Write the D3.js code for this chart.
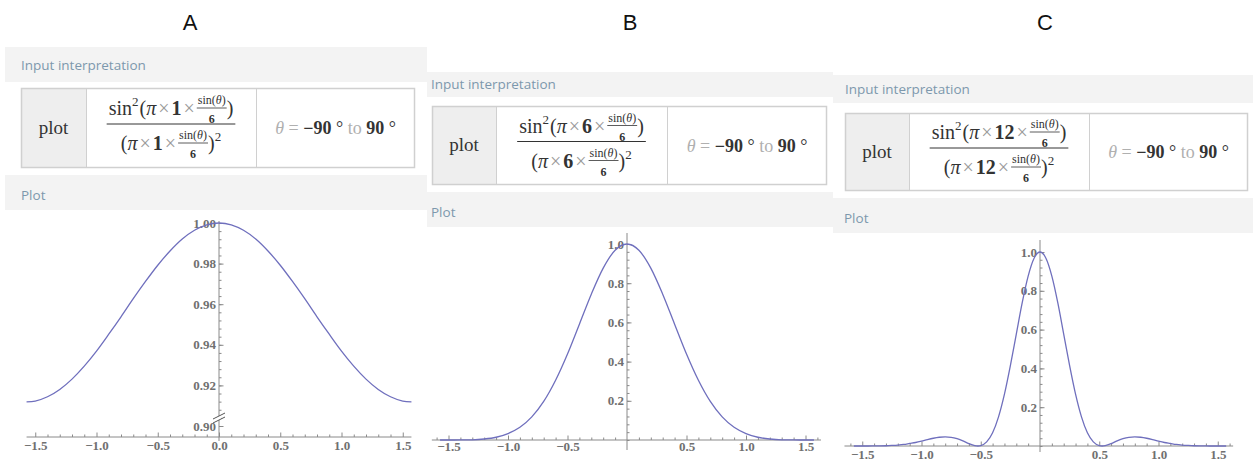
<!DOCTYPE html>
<html>
<head>
<meta charset="utf-8">
<script src="https://cdn.jsdelivr.net/npm/d3@7"></script>
<style>
  body { margin: 0; background: #fff; }
  svg { display: block; }
</style>
</head>
<body>
<svg id="chart" width="1253" height="461"></svg>
<script>
// ---- data ----
const panelNames = ["A", "B", "C"];
const formulaN = ["1", "6", "12"];

const thetaA = [-1.571,-1.5,-1.4,-1.3,-1.2,-1.1,-1.0,-0.9,-0.8,-0.7,-0.6,-0.5,-0.4,-0.3,-0.2,-0.1,0,
                0.1,0.2,0.3,0.4,0.5,0.6,0.7,0.8,0.9,1.0,1.1,1.2,1.3,1.4,1.5,1.571];
const valueA = [0.9119,0.9123,0.9144,0.9180,0.9231,0.9295,0.9369,0.9452,0.9538,0.9627,0.9712,0.9792,0.9862,0.9921,0.9964,0.9991,1.0,
                0.9991,0.9964,0.9921,0.9862,0.9792,0.9712,0.9627,0.9538,0.9452,0.9369,0.9295,0.9231,0.9180,0.9144,0.9123,0.9119];

const thetaB = [-1.571,-1.5,-1.4,-1.3,-1.2,-1.1,-1.0,-0.9,-0.8,-0.7,-0.6,-0.5,-0.4,-0.3,-0.2,-0.1,0,
                0.1,0.2,0.3,0.4,0.5,0.6,0.7,0.8,0.9,1.0,1.1,1.2,1.3,1.4,1.5,1.571];
const valueB = [0,0,0.0002,0.001,0.005,0.014,0.033,0.065,0.118,0.197,0.305,0.439,0.591,0.744,0.877,0.968,1,
                0.968,0.877,0.744,0.591,0.439,0.305,0.197,0.118,0.065,0.033,0.014,0.005,0.001,0.0002,0,0];

const thetaC = [-1.571,-1.5,-1.45,-1.4,-1.35,-1.3,-1.25,-1.2,-1.15,-1.1,-1.05,-1.0,-0.95,-0.9,-0.85,-0.8,-0.75,-0.7,-0.65,-0.6,-0.55,-0.524,-0.5,-0.45,-0.4,-0.35,-0.3,-0.25,-0.2,-0.15,-0.1,-0.05,0,
                0.05,0.1,0.15,0.2,0.25,0.3,0.35,0.4,0.45,0.5,0.524,0.55,0.6,0.65,0.7,0.75,0.8,0.85,0.9,0.95,1.0,1.05,1.1,1.15,1.2,1.25,1.3,1.35,1.4,1.45,1.5,1.571];
const valueC = [0,0,0.0001,0.0002,0.0006,0.0014,0.003,0.005,0.008,0.013,0.018,0.025,0.033,0.040,0.045,0.047,0.045,0.038,0.026,0.012,0.002,0,0.002,0.021,0.068,0.150,0.267,0.414,0.577,0.739,0.876,0.968,1,
                0.968,0.876,0.739,0.577,0.414,0.267,0.150,0.068,0.021,0.002,0,0.002,0.012,0.026,0.038,0.045,0.047,0.045,0.040,0.033,0.025,0.018,0.013,0.008,0.005,0.003,0.0014,0.0006,0.0002,0.0001,0,0];

const xTicksA = [-1.5, -1.0, -0.5, 0.0, 0.5, 1.0, 1.5];
const xTicksBC = [-1.5, -1.0, -0.5, 0.5, 1.0, 1.5];
const yTicksA = [0.90, 0.92, 0.94, 0.96, 0.98, 1.00];
const yTicksBC = [0.2, 0.4, 0.6, 0.8, 1.0];

// ---- layout of each screenshot ----
const layout = [
  { label: [190, 30], x0: 5, x1: 427, inBand: [47, 82], inText: [21, 65],
    table: [21, 415, 88, 168], c1: 86, c2: 256, plotBand: [175, 210], plotText: [21, 195],
    xRange: [35.25, 402.75], yDomain: [0.90, 1.00], yRange: [426, 223],
    xAxisY: 437, xLine: [-1.5708, 1.5708], yLine: [221, 441], labelPad: 5,
    theta: thetaA, value: valueA, xTicks: xTicksA, yTicks: yTicksA, yFmt: ".2f", yMinor: 0.004, brk: 418 },
  { label: [630, 30], x0: 427, x1: 833, inBand: [72, 97], inText: [431, 84],
    table: [432, 827, 106, 185], c1: 496, c2: 667, plotBand: [192, 227], plotText: [431, 212],
    xRange: [448.5, 805.5], yDomain: [0, 1], yRange: [440, 244],
    xAxisY: 440, xLine: [-1.64, 1.63], yLine: [233, 450], labelPad: 3,
    theta: thetaB, value: valueB, xTicks: xTicksBC, yTicks: yTicksBC, yFmt: ".1f", yMinor: 0.04, brk: null },
  { label: [1045, 30], x0: 833, x1: 1253, inBand: [75, 103], inText: [845, 89],
    table: [845, 1248, 113, 191], c1: 909, c2: 1089, plotBand: [198, 233], plotText: [844, 218],
    xRange: [862.25, 1217.75], yDomain: [0, 1], yRange: [446, 252],
    xAxisY: 446, xLine: [-1.65, 1.63], yLine: [240, 452], labelPad: 5,
    theta: thetaC, value: valueC, xTicks: xTicksBC, yTicks: yTicksBC, yFmt: ".1f", yMinor: 0.04, brk: null }
];

const svg = d3.select("#chart");
const serif = "'Liberation Serif', 'DejaVu Serif', serif";
const sans = "'Open Sans', 'Noto Sans', sans-serif";
const tickFont = "'Liberation Serif', serif";
const curveColor = "#6f6fbd";

// lays pieces of math in a row, returns the row group and its width
function mathRow(parent, pieces, baseline) {
  const row = parent.append("g");
  let cx = 0;
  pieces.forEach(p => {
    if (p.frac) {
      const fg = row.append("g");
      const top = fg.append("text")
        .attr("y", baseline - 11)
        .style("font-family", serif).style("font-size", "12px").attr("fill", "#333");
      top.append("tspan").text("sin(");
      top.append("tspan").style("font-style", "italic").text("θ");
      top.append("tspan").text(")");
      const bot = fg.append("text")
        .attr("y", baseline + 8)
        .style("font-family", serif).style("font-size", "12px").style("font-weight", "bold")
        .attr("fill", "#333").text("6");
      const w = Math.max(top.node().getComputedTextLength(), bot.node().getComputedTextLength()) + 2;
      top.attr("x", cx + w / 2).attr("text-anchor", "middle");
      bot.attr("x", cx + w / 2).attr("text-anchor", "middle");
      fg.append("line")
        .attr("x1", cx).attr("x2", cx + w)
        .attr("y1", baseline - 7).attr("y2", baseline - 7)
        .attr("stroke", "#333").attr("stroke-width", 0.8);
      cx += w + (p.after || 0);
    } else {
      cx += p.before || 0;
      const t = row.append("text")
        .attr("x", cx)
        .attr("y", baseline + (p.sup ? -9 : 0))
        .style("font-family", serif)
        .style("font-size", p.sup ? "13px" : "20px")
        .style("font-style", p.it ? "italic" : "normal")
        .style("font-weight", p.bold ? "bold" : "normal")
        .attr("fill", p.gray ? "#9a9a9a" : "#333")
        .text(p.t);
      cx += t.node().getComputedTextLength() + (p.after || 0);
    }
  });
  return { row, width: cx };
}

layout.forEach((L, i) => {
  const g = svg.append("g");
  const n = formulaN[i];

  // panel letter
  g.append("text")
    .attr("x", L.label[0]).attr("y", L.label[1])
    .attr("text-anchor", "middle")
    .style("font-family", "'Liberation Sans', Arial, sans-serif")
    .style("font-size", "22px")
    .attr("fill", "#111")
    .text(panelNames[i]);

  // pod header bands
  [[L.inBand, L.inText, "Input interpretation"], [L.plotBand, L.plotText, "Plot"]].forEach(([b, tp, txt]) => {
    g.append("rect")
      .attr("x", L.x0).attr("y", b[0])
      .attr("width", L.x1 - L.x0).attr("height", b[1] - b[0])
      .attr("fill", "#f3f3f3");
    g.append("text")
      .attr("x", tp[0]).attr("y", tp[1])
      .attr("dy", "0.35em")
      .style("font-family", sans).style("font-size", "13.5px")
      .attr("fill", "#7d98ad")
      .text(txt);
  });

  // interpretation table
  const [tx0, tx1, ty0, ty1] = L.table;
  g.append("rect")
    .attr("x", tx0).attr("y", ty0)
    .attr("width", L.c1 - tx0).attr("height", ty1 - ty0)
    .attr("fill", "#eeeeee");
  g.append("rect")
    .attr("x", tx0 + 0.5).attr("y", ty0 + 0.5)
    .attr("width", tx1 - tx0 - 1).attr("height", ty1 - ty0 - 1)
    .attr("fill", "none").attr("stroke", "#d0d0d0").attr("stroke-width", 1.5);
  [L.c1, L.c2].forEach(cx => {
    g.append("line")
      .attr("x1", cx + 0.5).attr("x2", cx + 0.5)
      .attr("y1", ty0).attr("y2", ty1)
      .attr("stroke", "#d0d0d0").attr("stroke-width", 1);
  });
  const midY = (ty0 + ty1) / 2;
  g.append("text")
    .attr("x", (tx0 + L.c1) / 2).attr("y", midY)
    .attr("dy", "0.3em").attr("text-anchor", "middle")
    .style("font-family", serif).style("font-size", "19px")
    .attr("fill", "#333")
    .text("plot");

  // formula
  const bar = midY - 4;
  const fcx = (L.c1 + L.c2) / 2;
  const times = { t: "×", gray: true, before: 2, after: 2 };
  const num = mathRow(g, [
    { t: "sin" }, { t: "2", sup: true, after: 1 }, { t: "(" }, { t: "π", it: true },
    times, { t: n, bold: true }, times, { frac: true }, { t: ")" }
  ], bar - 9);
  const den = mathRow(g, [
    { t: "(" }, { t: "π", it: true }, times, { t: n, bold: true }, times,
    { frac: true }, { t: ")" }, { t: "2", sup: true }
  ], bar + 26);
  const bw = Math.max(num.width, den.width) + 4;
  num.row.attr("transform", `translate(${fcx - num.width / 2},0)`);
  den.row.attr("transform", `translate(${fcx - den.width / 2},0)`);
  g.append("line")
    .attr("x1", fcx - bw / 2).attr("x2", fcx + bw / 2)
    .attr("y1", bar).attr("y2", bar)
    .attr("stroke", "#333").attr("stroke-width", 1);

  // theta range
  const rt = g.append("text")
    .attr("x", (L.c2 + tx1) / 2).attr("y", midY)
    .attr("dy", "0.35em").attr("text-anchor", "middle")
    .style("font-family", serif).style("font-size", "18px");
  rt.append("tspan").attr("fill", "#b0b0b0").style("font-style", "italic").text("θ");
  rt.append("tspan").attr("fill", "#b0b0b0").text(" = ");
  rt.append("tspan").attr("fill", "#333").style("font-weight", "bold").text("−90");
  rt.append("tspan").attr("fill", "#333").text(" °");
  rt.append("tspan").attr("fill", "#b0b0b0").text(" to ");
  rt.append("tspan").attr("fill", "#333").style("font-weight", "bold").text("90");
  rt.append("tspan").attr("fill", "#333").text(" °");

  // ---- plot ----
  const x = d3.scaleLinear().domain([-1.5, 1.5]).range(L.xRange);
  const y = d3.scaleLinear().domain(L.yDomain).range(L.yRange);
  const x0 = x(0);
  const axisColor = "#8a8a8a";
  const labelColor = "#707070";

  // x axis line
  g.append("line")
    .attr("x1", x(L.xLine[0])).attr("x2", x(L.xLine[1]))
    .attr("y1", L.xAxisY).attr("y2", L.xAxisY)
    .attr("stroke", axisColor).attr("stroke-width", 1);

  // x minor ticks
  const xMinor = d3.range(-16, 17).map(k => k / 10).filter(v => Math.abs(Math.round(v * 10) % 5) !== 0 && v >= L.xLine[0] && v <= L.xLine[1]);
  const gxm = g.append("g")
    .attr("transform", `translate(0,${L.xAxisY})`)
    .call(d3.axisBottom(x).tickValues(xMinor).tickSize(-2.5).tickFormat(""));
  gxm.select(".domain").remove();
  gxm.selectAll("line").attr("stroke", axisColor);

  // x major ticks with labels
  const gx = g.append("g")
    .attr("transform", `translate(0,${L.xAxisY})`)
    .call(d3.axisBottom(x).tickValues(L.xTicks).tickSize(-4.5).tickPadding(L.labelPad - 1).tickFormat(d3.format(".1f")));
  gx.select(".domain").remove();
  gx.selectAll("line").attr("stroke", axisColor);
  gx.selectAll("text")
    .style("font-family", tickFont).style("font-size", "13px").style("font-weight", "bold")
    .attr("fill", labelColor);

  // y axis line
  g.append("line")
    .attr("x1", x0).attr("x2", x0)
    .attr("y1", L.yLine[0]).attr("y2", L.yLine[1])
    .attr("stroke", axisColor).attr("stroke-width", 1);

  // y minor ticks
  const steps = Math.round((L.yDomain[1] - L.yDomain[0]) / L.yMinor);
  const yMinor = d3.range(0, steps + 1).map(k => L.yDomain[0] + k * L.yMinor);
  const gym = g.append("g")
    .attr("transform", `translate(${x0},0)`)
    .call(d3.axisLeft(y).tickValues(yMinor).tickSize(-2.5).tickFormat(""));
  gym.select(".domain").remove();
  gym.selectAll("line").attr("stroke", axisColor);

  // y major ticks
  const gy = g.append("g")
    .attr("transform", `translate(${x0},0)`)
    .call(d3.axisLeft(y).tickValues(L.yTicks).tickSize(-4.5).tickPadding(3).tickFormat(d3.format(L.yFmt)));
  gy.select(".domain").remove();
  gy.selectAll("line").attr("stroke", axisColor);
  gy.selectAll("text")
    .style("font-family", tickFont).style("font-size", "13px").style("font-weight", "bold")
    .attr("fill", labelColor);

  // axis break marker
  if (L.brk) {
    g.append("rect")
      .attr("x", x0 - 2).attr("y", L.brk - 2)
      .attr("width", 4).attr("height", 4)
      .attr("fill", "#fff");
    [-2, 2].forEach(off => {
      g.append("line")
        .attr("x1", x0 - 6).attr("y1", L.brk + off + 3)
        .attr("x2", x0 + 6).attr("y2", L.brk + off - 3)
        .attr("stroke", "#555").attr("stroke-width", 1);
    });
  }

  // curve
  const line = d3.line()
    .x(d => x(d[0]))
    .y(d => y(d[1]))
    .curve(d3.curveMonotoneX);
  g.append("path")
    .datum(d3.zip(L.theta, L.value))
    .attr("d", line)
    .attr("fill", "none")
    .attr("stroke", curveColor)
    .attr("stroke-width", 1.3);
});
</script>
</body>
</html>
